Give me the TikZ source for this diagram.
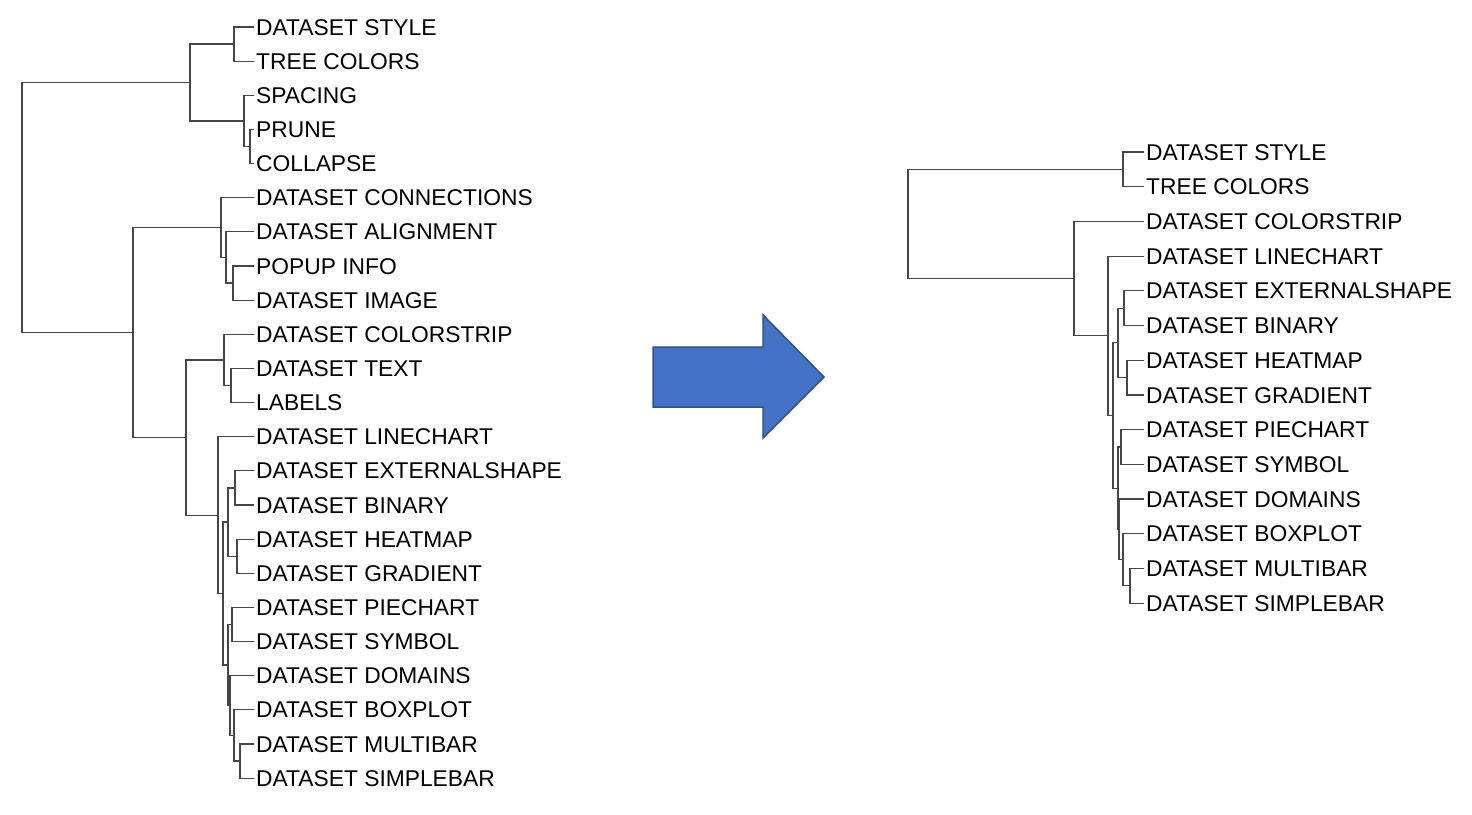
\documentclass[tikz,border=0pt]{standalone}
\usepackage{fontspec}
\setmainfont{Liberation Sans}
\definecolor{arrowfill}{RGB}{68,114,196}
\definecolor{arrowedge}{RGB}{47,82,143}
\definecolor{branch}{RGB}{70,70,70}
\begin{document}
\begin{tikzpicture}[x=1pt,y=-1pt,
  leaf/.style={anchor=west,inner sep=3pt,text height=16.3pt,text depth=0pt,
    font=\fontsize{22.8}{26}\selectfont},
  edge/.style={draw=branch,line width=1.2pt,line cap=rect}]
\useasboundingbox (0,0) rectangle (1472,814);
% ---------------- left tree: labels ----------------
\node[leaf] (l1) at (253,27) {DATASET STYLE};
\node[leaf] (l2) at (253,61.1) {TREE COLORS};
\node[leaf] (l3) at (253,95.3) {SPACING};
\node[leaf] (l4) at (253,129.4) {PRUNE};
\node[leaf] (l5) at (253,163.6) {COLLAPSE};
\node[leaf] (l6) at (253,197.7) {DATASET CONNECTIONS};
\node[leaf] (l7) at (253,231.8) {DATASET ALIGNMENT};
\node[leaf] (l8) at (253,266) {POPUP INFO};
\node[leaf] (l9) at (253,300.1) {DATASET IMAGE};
\node[leaf] (l10) at (253,334.3) {DATASET COLORSTRIP};
\node[leaf] (l11) at (253,368.4) {DATASET TEXT};
\node[leaf] (l12) at (253,402.5) {LABELS};
\node[leaf] (l13) at (253,436.7) {DATASET LINECHART};
\node[leaf] (l14) at (253,470.8) {DATASET EXTERNALSHAPE};
\node[leaf] (l15) at (253,505) {DATASET BINARY};
\node[leaf] (l16) at (253,539.1) {DATASET HEATMAP};
\node[leaf] (l17) at (253,573.2) {DATASET GRADIENT};
\node[leaf] (l18) at (253,607.4) {DATASET PIECHART};
\node[leaf] (l19) at (253,641.5) {DATASET SYMBOL};
\node[leaf] (l20) at (253,675.7) {DATASET DOMAINS};
\node[leaf] (l21) at (253,709.8) {DATASET BOXPLOT};
\node[leaf] (l22) at (253,743.9) {DATASET MULTIBAR};
\node[leaf] (l23) at (253,778.1) {DATASET SIMPLEBAR};
% ---------------- left tree: internal nodes ----------------
\coordinate (LR) at (22,207.5);
\coordinate (LA) at (190,82.5);
\coordinate (LA1) at (234,44.05);
\coordinate (LA2) at (244,120.9);
\coordinate (LA2b) at (250,146.5);
\coordinate (LB) at (133,332.55);
\coordinate (LB1) at (221,227.6);
\coordinate (LB1b) at (226,257.4);
\coordinate (LB1c) at (233,283.05);
\coordinate (LB2) at (186,437.5);
\coordinate (LB2a) at (224,359.9);
\coordinate (LB2a2) at (231,385.45);
\coordinate (LB2b) at (218,515.1);
\coordinate (LB2c) at (223,593.5);
\coordinate (LB2c1) at (228,522);
\coordinate (LB2d) at (235,487.9);
\coordinate (LB2e) at (237,556.15);
\coordinate (LB2c2) at (228,665);
\coordinate (LB2f) at (232,624.45);
\coordinate (LB2g) at (230,705.55);
\coordinate (LB2h) at (234,735.4);
\coordinate (LB2i) at (240,761);
% ---------------- left tree: branches ----------------
\draw[edge] (LR) |- (LA);   \draw[edge] (LR) |- (LB);
\draw[edge] (LA) |- (LA1);  \draw[edge] (LA) |- (LA2);
\draw[edge] (LA1) |- (l1.west); \draw[edge] (LA1) |- (l2.west);
\draw[edge] (LA2) |- (l3.west); \draw[edge] (LA2) |- (LA2b);
\draw[edge] (LA2b) |- (l4.west); \draw[edge] (LA2b) |- (l5.west);
\draw[edge] (LB) |- (LB1);  \draw[edge] (LB) |- (LB2);
\draw[edge] (LB1) |- (l6.west); \draw[edge] (LB1) |- (LB1b);
\draw[edge] (LB1b) |- (l7.west); \draw[edge] (LB1b) |- (LB1c);
\draw[edge] (LB1c) |- (l8.west); \draw[edge] (LB1c) |- (l9.west);
\draw[edge] (LB2) |- (LB2a); \draw[edge] (LB2) |- (LB2b);
\draw[edge] (LB2a) |- (l10.west); \draw[edge] (LB2a) |- (LB2a2);
\draw[edge] (LB2a2) |- (l11.west); \draw[edge] (LB2a2) |- (l12.west);
\draw[edge] (LB2b) |- (l13.west); \draw[edge] (LB2b) |- (LB2c);
\draw[edge] (LB2c) |- (LB2c1); \draw[edge] (LB2c) |- (LB2c2);
\draw[edge] (LB2c1) |- (LB2d); \draw[edge] (LB2c1) |- (LB2e);
\draw[edge] (LB2d) |- (l14.west); \draw[edge] (LB2d) |- (l15.west);
\draw[edge] (LB2e) |- (l16.west); \draw[edge] (LB2e) |- (l17.west);
\draw[edge] (LB2c2) |- (LB2f); \draw[edge] (LB2c2) |- (LB2g);
\draw[edge] (LB2f) |- (l18.west); \draw[edge] (LB2f) |- (l19.west);
\draw[edge] (LB2g) |- (l20.west); \draw[edge] (LB2g) |- (LB2h);
\draw[edge] (LB2h) |- (l21.west); \draw[edge] (LB2h) |- (LB2i);
\draw[edge] (LB2i) |- (l22.west); \draw[edge] (LB2i) |- (l23.west);
% ---------------- arrow ----------------
\draw[fill=arrowfill,draw=arrowedge,line width=1.5pt,line join=miter]
  (653,347) -- (763,347) -- (763,315) -- (824,377) -- (763,438)
  -- (763,407) -- (653,407) -- cycle;
% ---------------- right tree: labels ----------------
\node[leaf] (r1) at (1143,152) {DATASET STYLE};
\node[leaf] (r2) at (1143,186.7) {TREE COLORS};
\node[leaf] (r3) at (1143,221.4) {DATASET COLORSTRIP};
\node[leaf] (r4) at (1143,256.1) {DATASET LINECHART};
\node[leaf] (r5) at (1143,290.8) {DATASET EXTERNALSHAPE};
\node[leaf] (r6) at (1143,325.5) {DATASET BINARY};
\node[leaf] (r7) at (1143,360.2) {DATASET HEATMAP};
\node[leaf] (r8) at (1143,394.9) {DATASET GRADIENT};
\node[leaf] (r9) at (1143,429.6) {DATASET PIECHART};
\node[leaf] (r10) at (1143,464.3) {DATASET SYMBOL};
\node[leaf] (r11) at (1143,499) {DATASET DOMAINS};
\node[leaf] (r12) at (1143,533.7) {DATASET BOXPLOT};
\node[leaf] (r13) at (1143,568.4) {DATASET MULTIBAR};
\node[leaf] (r14) at (1143,603.1) {DATASET SIMPLEBAR};
% ---------------- right tree: internal nodes ----------------
\coordinate (RR) at (908,223.97);
\coordinate (RA) at (1123,169.35);
\coordinate (RB) at (1074,278.6);
\coordinate (RB2) at (1108,335.8);
\coordinate (RB3) at (1113,415.5);
\coordinate (RB3a) at (1118,342.85);
\coordinate (RB3c) at (1124,308.15);
\coordinate (RB3d) at (1127,377.55);
\coordinate (RB3b) at (1118,488.15);
\coordinate (RB3e) at (1121,446.95);
\coordinate (RB3f) at (1119,529.35);
\coordinate (RB3g) at (1123,559.7);
\coordinate (RB3h) at (1130,585.75);
% ---------------- right tree: branches ----------------
\draw[edge] (RR) |- (RA);  \draw[edge] (RR) |- (RB);
\draw[edge] (RA) |- (r1.west); \draw[edge] (RA) |- (r2.west);
\draw[edge] (RB) |- (r3.west); \draw[edge] (RB) |- (RB2);
\draw[edge] (RB2) |- (r4.west); \draw[edge] (RB2) |- (RB3);
\draw[edge] (RB3) |- (RB3a); \draw[edge] (RB3) |- (RB3b);
\draw[edge] (RB3a) |- (RB3c); \draw[edge] (RB3a) |- (RB3d);
\draw[edge] (RB3c) |- (r5.west); \draw[edge] (RB3c) |- (r6.west);
\draw[edge] (RB3d) |- (r7.west); \draw[edge] (RB3d) |- (r8.west);
\draw[edge] (RB3b) |- (RB3e); \draw[edge] (RB3b) |- (RB3f);
\draw[edge] (RB3e) |- (r9.west); \draw[edge] (RB3e) |- (r10.west);
\draw[edge] (RB3f) |- (r11.west); \draw[edge] (RB3f) |- (RB3g);
\draw[edge] (RB3g) |- (r12.west); \draw[edge] (RB3g) |- (RB3h);
\draw[edge] (RB3h) |- (r13.west); \draw[edge] (RB3h) |- (r14.west);
\end{tikzpicture}
\end{document}
